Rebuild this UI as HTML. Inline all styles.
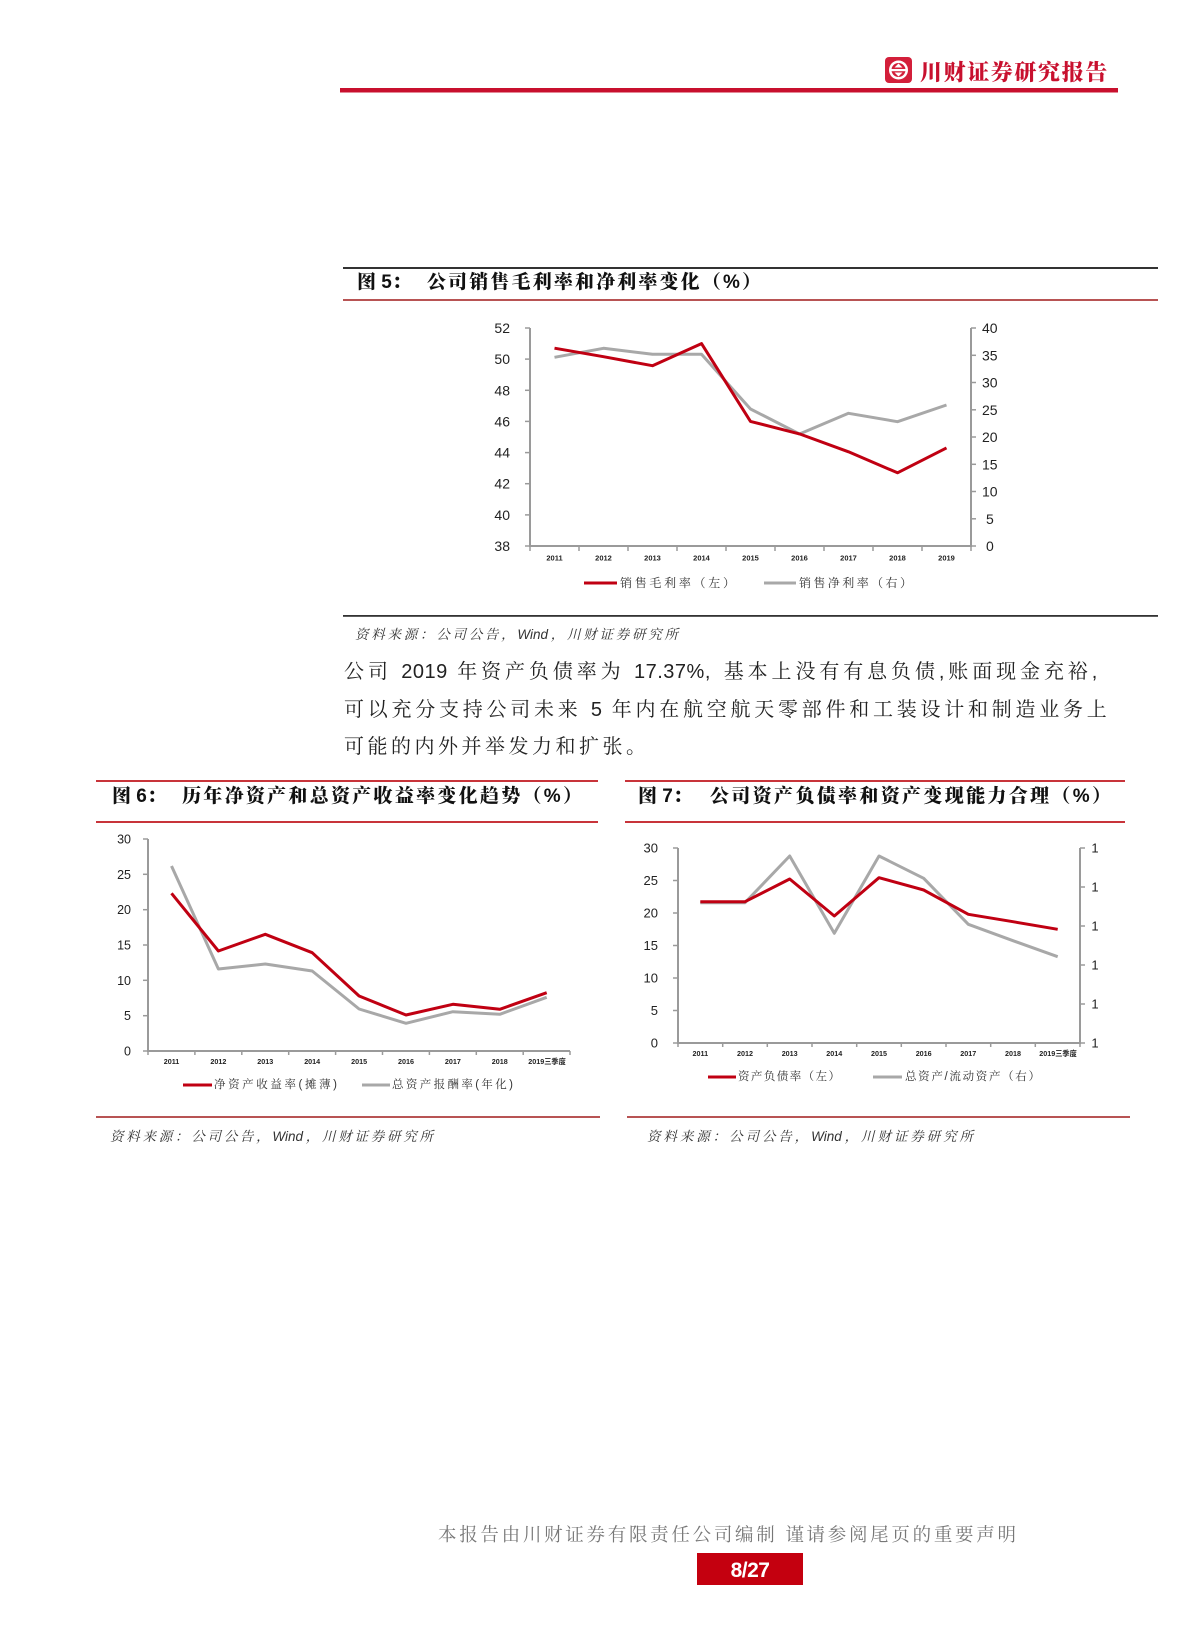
<!DOCTYPE html>
<html><head><meta charset="utf-8">
<style>
html,body{margin:0;padding:0;background:#fff;}
body{width:1200px;height:1630px;position:relative;overflow:hidden;}
.t{position:absolute;white-space:nowrap;}
.j{text-align:justify;text-align-last:justify;}
.ttl{font-family:"Liberation Sans","Noto Serif CJK SC",serif;font-weight:900;font-size:19px;line-height:24px;color:#111;}
.src{font-family:"Liberation Sans","Noto Serif CJK SC",serif;font-style:italic;font-size:13.5px;line-height:18px;color:#333;}
.body{font-family:"Liberation Sans","Noto Serif CJK SC",serif;font-size:20px;line-height:26px;color:#222;letter-spacing:3px;}
.d{letter-spacing:0.5px;}
.lg{font-family:"Liberation Sans","Noto Serif CJK SC",serif;font-size:12px;line-height:16px;color:#333;}
.ft{font-family:"Liberation Sans","Noto Serif CJK SC",serif;font-size:18.5px;line-height:24px;color:#777;}
</style></head><body>
<svg width="1200" height="1630" viewBox="0 0 1200 1630" style="position:absolute;left:0;top:0" font-family="Liberation Sans, sans-serif">
  <!-- header -->
  <rect x="885" y="57" width="27" height="26" rx="4" fill="#d31f3a"/>
  <circle cx="898.5" cy="70" r="9.5" fill="#fff"/>
  <circle cx="898.5" cy="70" r="7" fill="#d31f3a"/>
  <rect x="891" y="69" width="15" height="2.2" fill="#fff"/>
  <polygon points="894.5,67.5 902.5,67.5 898.5,63.5" fill="#fff"/>
  <polygon points="894.5,72.5 902.5,72.5 898.5,76.5" fill="#fff"/>
  <text x="920" y="80" font-family="Liberation Sans, Noto Serif CJK SC, serif" font-weight="900" font-size="22" fill="#c8102e" letter-spacing="1.6">川财证券研究报告</text>
  <rect x="340" y="88" width="778" height="4.5" fill="#c8102e"/>

  <!-- Figure 5 frame -->
  <rect x="343" y="267" width="815" height="2" fill="#333"/>
  <rect x="343" y="299" width="815" height="2" fill="#b85454"/>
  <rect x="343" y="615" width="815" height="1.8" fill="#333"/>

  <!-- Figure 5 chart -->
  <g stroke="#9a9a9a" stroke-width="2" fill="none">
    <line x1="530" y1="328" x2="530" y2="547"/>
    <line x1="971" y1="328" x2="971" y2="547"/>
    <line x1="529" y1="546" x2="972" y2="546"/>
  </g>
  <g stroke="#9a9a9a" stroke-width="1.5">
    <line x1="525" y1="328" x2="530" y2="328"/><line x1="525" y1="359.1" x2="530" y2="359.1"/><line x1="525" y1="390.3" x2="530" y2="390.3"/><line x1="525" y1="421.4" x2="530" y2="421.4"/><line x1="525" y1="452.6" x2="530" y2="452.6"/><line x1="525" y1="483.7" x2="530" y2="483.7"/><line x1="525" y1="514.9" x2="530" y2="514.9"/><line x1="525" y1="546" x2="530" y2="546"/>
    <line x1="971" y1="328" x2="976" y2="328"/><line x1="971" y1="355.3" x2="976" y2="355.3"/><line x1="971" y1="382.5" x2="976" y2="382.5"/><line x1="971" y1="409.8" x2="976" y2="409.8"/><line x1="971" y1="437" x2="976" y2="437"/><line x1="971" y1="464.3" x2="976" y2="464.3"/><line x1="971" y1="491.5" x2="976" y2="491.5"/><line x1="971" y1="518.8" x2="976" y2="518.8"/><line x1="971" y1="546" x2="976" y2="546"/>
    <line x1="530" y1="546" x2="530" y2="551"/><line x1="579" y1="546" x2="579" y2="551"/><line x1="628" y1="546" x2="628" y2="551"/><line x1="677" y1="546" x2="677" y2="551"/><line x1="726" y1="546" x2="726" y2="551"/><line x1="775" y1="546" x2="775" y2="551"/><line x1="824" y1="546" x2="824" y2="551"/><line x1="873" y1="546" x2="873" y2="551"/><line x1="922" y1="546" x2="922" y2="551"/><line x1="971" y1="546" x2="971" y2="551"/>
  </g>
  <g font-size="14" fill="#222" text-anchor="end">
    <text x="510" y="333">52</text><text x="510" y="364.1">50</text><text x="510" y="395.3">48</text><text x="510" y="426.4">46</text><text x="510" y="457.6">44</text><text x="510" y="488.7">42</text><text x="510" y="519.9">40</text><text x="510" y="551">38</text>
  </g>
  <g font-size="14" fill="#222" text-anchor="start">
    <text x="982" y="333">40</text><text x="982" y="360.3">35</text><text x="982" y="387.5">30</text><text x="982" y="414.8">25</text><text x="982" y="442">20</text><text x="982" y="469.3">15</text><text x="982" y="496.5">10</text><text x="986" y="523.8">5</text><text x="986" y="551">0</text>
  </g>
  <g font-size="7.5" font-weight="bold" fill="#222" text-anchor="middle">
    <text x="554.5" y="560.5">2011</text><text x="603.5" y="560.5">2012</text><text x="652.5" y="560.5">2013</text><text x="701.5" y="560.5">2014</text><text x="750.5" y="560.5">2015</text><text x="799.5" y="560.5">2016</text><text x="848.5" y="560.5">2017</text><text x="897.5" y="560.5">2018</text><text x="946.5" y="560.5">2019</text>
  </g>
  <polyline fill="none" stroke="#a8a8a8" stroke-width="3" stroke-linejoin="round" points="554.5,357.3 603.5,348.3 652.5,354.3 701.5,354.3 750.5,409 799.5,434 848.5,413.3 897.5,421.7 946.5,405"/>
  <polyline fill="none" stroke="#c00012" stroke-width="3" stroke-linejoin="round" points="554.5,348.2 603.5,356.7 652.5,365.7 701.5,343.6 750.5,421.4 799.5,433.9 848.5,451.8 897.5,472.8 946.5,447.9"/>
  <rect x="584" y="581.5" width="33" height="3" fill="#c00012"/>
  <rect x="764" y="581.5" width="32" height="3" fill="#a8a8a8"/>

  <!-- Figure 6 frame -->
  <rect x="96" y="780" width="502" height="2" fill="#c8343a"/>
  <rect x="96" y="821" width="502" height="2" fill="#c8343a"/>
  <rect x="96" y="1116" width="504" height="2" fill="#b85454"/>

  <!-- Figure 6 chart -->
  <g stroke="#9a9a9a" stroke-width="2" fill="none">
    <line x1="148" y1="839" x2="148" y2="1052"/>
    <line x1="147" y1="1051" x2="570" y2="1051"/>
  </g>
  <g stroke="#9a9a9a" stroke-width="1.5">
    <line x1="143" y1="839" x2="148" y2="839"/><line x1="143" y1="874.3" x2="148" y2="874.3"/><line x1="143" y1="909.7" x2="148" y2="909.7"/><line x1="143" y1="945" x2="148" y2="945"/><line x1="143" y1="980.3" x2="148" y2="980.3"/><line x1="143" y1="1015.7" x2="148" y2="1015.7"/><line x1="143" y1="1051" x2="148" y2="1051"/>
    <line x1="148" y1="1051" x2="148" y2="1055"/><line x1="194.9" y1="1051" x2="194.9" y2="1055"/><line x1="241.8" y1="1051" x2="241.8" y2="1055"/><line x1="288.7" y1="1051" x2="288.7" y2="1055"/><line x1="335.6" y1="1051" x2="335.6" y2="1055"/><line x1="382.5" y1="1051" x2="382.5" y2="1055"/><line x1="429.4" y1="1051" x2="429.4" y2="1055"/><line x1="476.3" y1="1051" x2="476.3" y2="1055"/><line x1="523.2" y1="1051" x2="523.2" y2="1055"/><line x1="570" y1="1051" x2="570" y2="1055"/>
  </g>
  <g font-size="12.5" fill="#222" text-anchor="end">
    <text x="131" y="843.5">30</text><text x="131" y="878.8">25</text><text x="131" y="914.2">20</text><text x="131" y="949.5">15</text><text x="131" y="984.8">10</text><text x="131" y="1020.2">5</text><text x="131" y="1055.5">0</text>
  </g>
  <g font-size="7.2" font-weight="bold" fill="#222" text-anchor="middle">
    <text x="171.5" y="1064">2011</text><text x="218.4" y="1064">2012</text><text x="265.3" y="1064">2013</text><text x="312.2" y="1064">2014</text><text x="359.1" y="1064">2015</text><text x="406" y="1064">2016</text><text x="452.9" y="1064">2017</text><text x="499.8" y="1064">2018</text>
    <text x="547" y="1064" font-family="Liberation Sans, Noto Sans CJK SC, sans-serif">2019三季度</text>
  </g>
  <polyline fill="none" stroke="#a8a8a8" stroke-width="3" stroke-linejoin="round" points="171.5,866 218.4,969 265.3,964 312.2,971 359.1,1009 406,1023.3 452.9,1011.7 499.8,1014.3 546.7,997.3"/>
  <polyline fill="none" stroke="#c00012" stroke-width="3" stroke-linejoin="round" points="171.5,893.3 218.4,951 265.3,934.3 312.2,952.7 359.1,996 406,1015 452.9,1004.3 499.8,1009.3 546.7,992.7"/>
  <rect x="183" y="1083.5" width="29" height="3" fill="#c00012"/>
  <rect x="362" y="1083.5" width="28" height="3" fill="#a8a8a8"/>

  <!-- Figure 7 frame -->
  <rect x="625" y="780" width="500" height="2" fill="#c8343a"/>
  <rect x="625" y="821" width="500" height="2" fill="#c8343a"/>
  <rect x="627" y="1116" width="503" height="2" fill="#b85454"/>

  <!-- Figure 7 chart -->
  <g stroke="#9a9a9a" stroke-width="2" fill="none">
    <line x1="678" y1="848" x2="678" y2="1044"/>
    <line x1="1080" y1="848" x2="1080" y2="1044"/>
    <line x1="677" y1="1043" x2="1081" y2="1043"/>
  </g>
  <g stroke="#9a9a9a" stroke-width="1.5">
    <line x1="673" y1="848" x2="678" y2="848"/><line x1="673" y1="880.5" x2="678" y2="880.5"/><line x1="673" y1="913" x2="678" y2="913"/><line x1="673" y1="945.5" x2="678" y2="945.5"/><line x1="673" y1="978" x2="678" y2="978"/><line x1="673" y1="1010.5" x2="678" y2="1010.5"/><line x1="673" y1="1043" x2="678" y2="1043"/>
    <line x1="1080" y1="848" x2="1085" y2="848"/><line x1="1080" y1="887" x2="1085" y2="887"/><line x1="1080" y1="926" x2="1085" y2="926"/><line x1="1080" y1="965" x2="1085" y2="965"/><line x1="1080" y1="1004" x2="1085" y2="1004"/><line x1="1080" y1="1043" x2="1085" y2="1043"/>
    <line x1="678" y1="1043" x2="678" y2="1047"/><line x1="722.7" y1="1043" x2="722.7" y2="1047"/><line x1="767.3" y1="1043" x2="767.3" y2="1047"/><line x1="812" y1="1043" x2="812" y2="1047"/><line x1="856.7" y1="1043" x2="856.7" y2="1047"/><line x1="901.3" y1="1043" x2="901.3" y2="1047"/><line x1="946" y1="1043" x2="946" y2="1047"/><line x1="990.7" y1="1043" x2="990.7" y2="1047"/><line x1="1035.3" y1="1043" x2="1035.3" y2="1047"/><line x1="1080" y1="1043" x2="1080" y2="1047"/>
  </g>
  <g font-size="13" fill="#222" text-anchor="end">
    <text x="658" y="852.5">30</text><text x="658" y="885">25</text><text x="658" y="917.5">20</text><text x="658" y="950">15</text><text x="658" y="982.5">10</text><text x="658" y="1015">5</text><text x="658" y="1047.5">0</text>
  </g>
  <g font-size="13" fill="#222" text-anchor="middle">
    <text x="1095" y="852.5">1</text><text x="1095" y="891.5">1</text><text x="1095" y="930.5">1</text><text x="1095" y="969.5">1</text><text x="1095" y="1008.5">1</text><text x="1095" y="1047.5">1</text>
  </g>
  <g font-size="7.2" font-weight="bold" fill="#222" text-anchor="middle">
    <text x="700.3" y="1056">2011</text><text x="745" y="1056">2012</text><text x="789.7" y="1056">2013</text><text x="834.3" y="1056">2014</text><text x="879" y="1056">2015</text><text x="923.7" y="1056">2016</text><text x="968.3" y="1056">2017</text><text x="1013" y="1056">2018</text>
    <text x="1058" y="1056" font-family="Liberation Sans, Noto Sans CJK SC, sans-serif">2019三季度</text>
  </g>
  <polyline fill="none" stroke="#a8a8a8" stroke-width="3" stroke-linejoin="round" points="700.3,902.7 745,902.7 789.7,856 834.3,933.3 879,856 923.7,878.3 968.3,924.3 1013,940.7 1057.7,956.7"/>
  <polyline fill="none" stroke="#c00012" stroke-width="3" stroke-linejoin="round" points="700.3,901.7 745,901.7 789.7,879 834.3,916 879,877.7 923.7,890 968.3,914.3 1013,921.7 1057.7,929.3"/>
  <rect x="708" y="1075.5" width="28" height="3" fill="#c00012"/>
  <rect x="873" y="1075.5" width="29" height="3" fill="#a8a8a8"/>

  <!-- footer box -->
  <rect x="697" y="1553" width="106" height="32" fill="#c4000f"/>
  <text x="750" y="1577" text-anchor="middle" font-size="21" font-weight="bold" fill="#fff" letter-spacing="-0.5">8/27</text>
</svg>

<!-- Titles -->
<div class="t ttl" style="left:357px;top:271px;">图 5：</div>
<div class="t ttl j" style="left:427px;top:271px;width:334px;">公司销售毛利率和净利率变化（%）</div>
<div class="t ttl" style="left:112px;top:785px;">图 6：</div>
<div class="t ttl j" style="left:182px;top:785px;width:400px;">历年净资产和总资产收益率变化趋势（%）</div>
<div class="t ttl" style="left:638px;top:785px;">图 7：</div>
<div class="t ttl j" style="left:710px;top:785px;width:401px;">公司资产负债率和资产变现能力合理（%）</div>

<!-- Legends -->
<div class="t lg j" style="left:620px;top:575px;width:115px;">销售毛利率（左）</div>
<div class="t lg j" style="left:799px;top:575px;width:113px;">销售净利率（右）</div>
<div class="t lg j" style="left:214px;top:1077px;width:123px;font-size:11.5px;">净资产收益率(摊薄)</div>
<div class="t lg j" style="left:392px;top:1077px;width:121px;font-size:11.5px;">总资产报酬率(年化)</div>
<div class="t lg j" style="left:738px;top:1069px;width:102px;font-size:11.5px;">资产负债率（左）</div>
<div class="t lg j" style="left:905px;top:1069px;width:135px;font-size:11.5px;">总资产/流动资产（右）</div>

<!-- Sources -->
<div class="t src j" style="left:355px;top:626px;width:323px;">资料来源：公司公告，Wind，川财证券研究所</div>
<div class="t src j" style="left:110px;top:1128px;width:323px;">资料来源：公司公告，Wind，川财证券研究所</div>
<div class="t src j" style="left:647px;top:1128px;width:326px;">资料来源：公司公告，Wind，川财证券研究所</div>

<!-- Body paragraph -->
<div class="t body" style="left:344px;top:659px;letter-spacing:3.9px;">公司 <span class="d">2019</span> 年资产负债率为 <span class="d">17.37%</span>, 基本上没有有息负债,账面现金充裕,</div>
<div class="t body" style="left:344px;top:697px;letter-spacing:3.75px;">可以充分支持公司未来 <span class="d">5</span> 年内在航空航天零部件和工装设计和制造业务上</div>
<div class="t body" style="left:344px;top:734px;letter-spacing:3.5px;">可能的内外并举发力和扩张。</div>

<!-- Footer -->
<div class="t ft j" style="left:438px;top:1523px;width:578px;">本报告由川财证券有限责任公司编制 谨请参阅尾页的重要声明</div>
</body></html>
